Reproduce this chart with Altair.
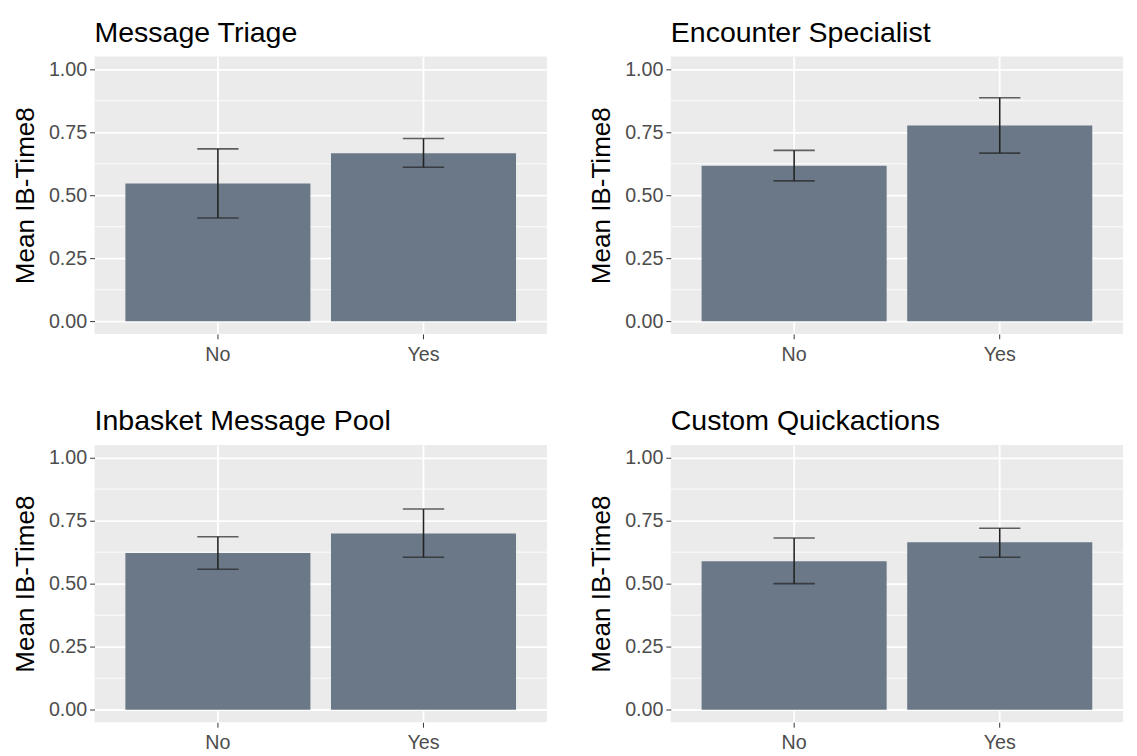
import altair as alt
import pandas as pd

panels = ["Message Triage", "Encounter Specialist", "Inbasket Message Pool", "Custom Quickactions"]
categories = ["No", "Yes"]
means = [[0.547, 0.667], [0.617, 0.777], [0.622, 0.699], [0.589, 0.664]]
lows = [[0.410, 0.611], [0.557, 0.667], [0.557, 0.605], [0.500, 0.605]]
highs = [[0.684, 0.725], [0.678, 0.887], [0.686, 0.796], [0.681, 0.720]]
major_ticks = [0, 0.25, 0.5, 0.75, 1.0]
minor_ticks = [0.125, 0.375, 0.625, 0.875]

FONT = "Liberation Sans"
W, H = 460, 282
BAR = "#6B7888"
YTITLE = "Mean IB-Time8"


def panel(i):
    df = pd.DataFrame({
        "cat": categories,
        "mean": means[i],
        "lo": lows[i],
        "hi": highs[i],
    })
    minor = pd.DataFrame({"v": minor_ticks})
    xs = alt.X("cat:N", title=None, sort=categories,
               scale=alt.Scale(paddingInner=0.1, paddingOuter=0.15),
               axis=alt.Axis(labelAngle=0, labelFontSize=20, labelColor="#4D4D4D",
                             labelFont=FONT, tickColor="#333333", tickSize=5,
                             labelPadding=6, domain=False, grid=True,
                             gridColor="white", gridWidth=1.8))
    yscale = alt.Scale(domain=[-0.05, 1.05], nice=False, zero=False)
    yaxis = alt.Axis(values=major_ticks, format=".2f", labelFontSize=20,
                     labelColor="#4D4D4D", labelFont=FONT, tickColor="#333333",
                     tickSize=5, labelPadding=3, domain=False, grid=True,
                     gridColor="white", gridWidth=1.8, titleFontSize=26.5,
                     titleFont=FONT, titleFontWeight="normal",
                     titleColor="black", titlePadding=9)
    minor_rules = alt.Chart(minor).mark_rule(color="white", strokeWidth=0.9).encode(
        y=alt.Y("v:Q", scale=yscale, title=YTITLE, axis=yaxis)
    )
    bars = alt.Chart(df).mark_bar(color=BAR).encode(
        x=xs, y=alt.Y("mean:Q", scale=yscale, title=YTITLE, axis=yaxis)
    )
    err = alt.Chart(df).mark_rule(color="#222222", strokeWidth=1.6).encode(
        x=alt.X("cat:N", sort=categories),
        y=alt.Y("lo:Q", scale=yscale, title=YTITLE, axis=yaxis), y2="hi:Q"
    )
    cap_lo = alt.Chart(df).mark_tick(color="#222222", thickness=1.6, size=42).encode(
        x=alt.X("cat:N", sort=categories),
        y=alt.Y("lo:Q", scale=yscale, title=YTITLE, axis=yaxis)
    )
    cap_hi = alt.Chart(df).mark_tick(color="#222222", thickness=1.6, size=42).encode(
        x=alt.X("cat:N", sort=categories),
        y=alt.Y("hi:Q", scale=yscale, title=YTITLE, axis=yaxis)
    )
    return alt.layer(minor_rules, bars, err, cap_lo, cap_hi).properties(
        width=W, height=H,
        title=alt.TitleParams(panels[i], anchor="start", frame="group", fontSize=29,
                              fontWeight="normal", color="black", font=FONT, offset=9),
    )


row1 = alt.hconcat(panel(0), panel(1), spacing=42)
row2 = alt.hconcat(panel(2), panel(3), spacing=42)
chart = alt.vconcat(row1, row2, spacing=44).configure(
    background="white"
).configure_view(fill="#EBEBEB", strokeWidth=0)

chart.save("out.html", embed_options={"renderer": "svg", "actions": False})
